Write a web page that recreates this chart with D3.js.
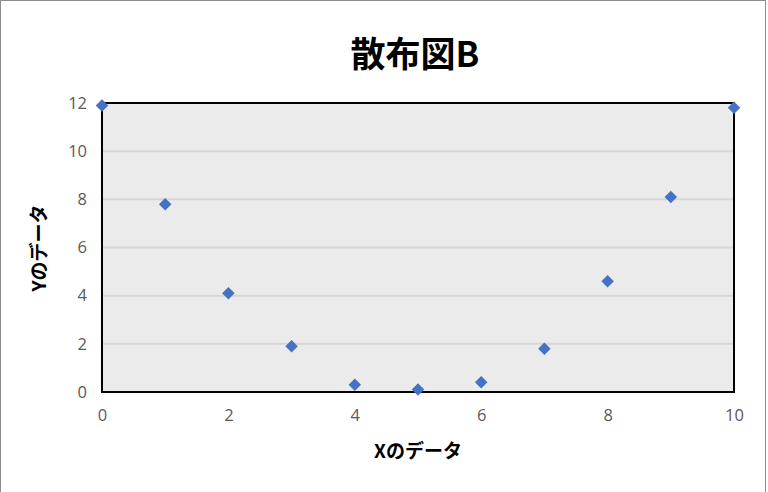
<!DOCTYPE html>
<html>
<head>
<meta charset="utf-8">
<script src="https://cdn.jsdelivr.net/npm/d3@7"></script>
<style>
  body { margin: 0; background: #fff; }
  svg { display: block; }
</style>
</head>
<body>
<svg width="768" height="492"></svg>
<script>
var xValues = [0, 1, 2, 3, 4, 5, 6, 7, 8, 9, 10],
    yValues = [11.9, 7.8, 4.1, 1.9, 0.3, 0.1, 0.4, 1.8, 4.6, 8.1, 11.8],
    xTicks = [0, 2, 4, 6, 8, 10],
    yTicks = [0, 2, 4, 6, 8, 10, 12];

var title = "散布図B",
    xTitle = "Xのデータ",
    yTitle = "Yのデータ";

var svg = d3.select("svg"),
    margin = {top: 103, right: 34, bottom: 100, left: 102},
    width = 734 - margin.left,
    height = 392 - margin.top;

// outer chart frame
svg.append("rect")
    .attr("x", 0.5).attr("y", 0.5)
    .attr("width", 765).attr("height", 500)
    .attr("fill", "#fff")
    .attr("stroke", "#8c8c8c");

var x = d3.scaleLinear().domain([0, 10]).range([0, width]);
var y = d3.scaleLinear().domain([0, 12]).range([height, 0]);

var g = svg.append("g")
    .attr("transform", "translate(" + margin.left + "," + margin.top + ")");

g.append("rect")
    .attr("width", width)
    .attr("height", height)
    .attr("fill", "#ebebeb");

// gridlines
g.append("g")
    .selectAll("line")
    .data(yTicks.filter(function(d) { return d > 0 && d < 12; }))
  .enter().append("line")
    .attr("x1", 0).attr("x2", width)
    .attr("y1", function(d) { return y(d); })
    .attr("y2", function(d) { return y(d); })
    .attr("stroke", "#d6d6d6")
    .attr("stroke-width", 2);

g.append("rect")
    .attr("width", width)
    .attr("height", height)
    .attr("fill", "none")
    .attr("stroke", "#000")
    .attr("stroke-width", 2);

// axes
var xAxis = g.append("g")
    .attr("transform", "translate(0," + height + ")")
    .call(d3.axisBottom(x).tickValues(xTicks).tickSize(0).tickPadding(17));

var yAxis = g.append("g")
    .call(d3.axisLeft(y).tickValues(yTicks).tickSize(0).tickPadding(15));

[xAxis, yAxis].forEach(function(a) {
    a.select(".domain").remove();
    a.selectAll("text")
        .attr("fill", "#595959")
        .style("font-family", "'Open Sans', 'Noto Sans', sans-serif")
        .style("font-size", "16.5px");
});

// points
g.append("g")
    .selectAll("path")
    .data(xValues)
  .enter().append("path")
    .attr("d", d3.symbol().type(d3.symbolSquare).size(78))
    .attr("transform", function(d, i) {
        return "translate(" + x(d) + "," + y(yValues[i]) + ") rotate(45)";
    })
    .attr("fill", "#4472c4");

// titles
svg.append("text")
    .attr("x", 415).attr("y", 67)
    .attr("text-anchor", "middle")
    .style("font-family", "'Noto Sans CJK JP', sans-serif")
    .style("font-weight", "bold")
    .style("font-size", "35px")
    .text(title);

svg.append("text")
    .attr("x", 418).attr("y", 458)
    .attr("text-anchor", "middle")
    .style("font-family", "'Noto Sans CJK JP', sans-serif")
    .style("font-weight", "bold")
    .style("font-size", "19px")
    .text(xTitle);

svg.append("text")
    .attr("transform", "translate(46,248) rotate(-90)")
    .attr("text-anchor", "middle")
    .style("font-family", "'Noto Sans CJK JP', sans-serif")
    .style("font-weight", "bold")
    .style("font-size", "19px")
    .text(yTitle);
</script>
</body>
</html>
